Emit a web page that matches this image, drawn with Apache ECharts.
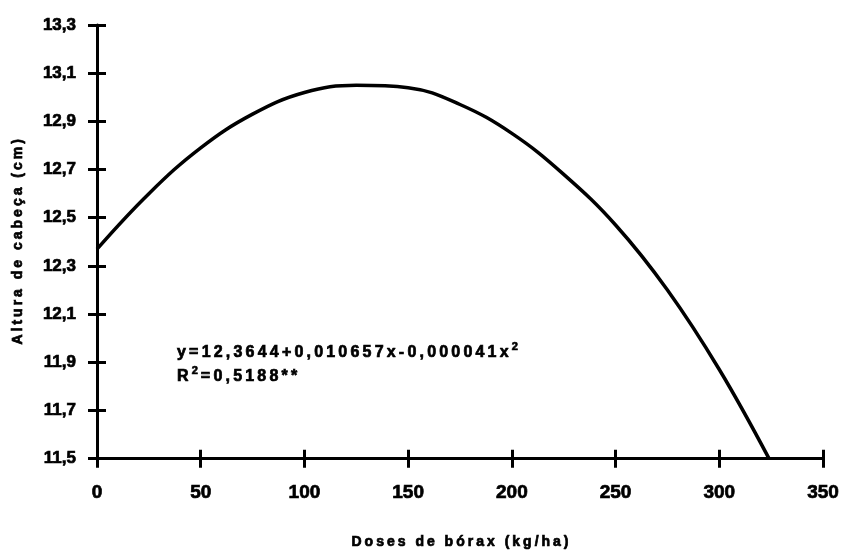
<!DOCTYPE html>
<html>
<head>
<meta charset="utf-8">
<script src="https://cdn.jsdelivr.net/npm/echarts@6/dist/echarts.min.js"></script>
<style>
  html, body { margin: 0; padding: 0; background: #fff; }
  #chart { width: 843px; height: 554px; }
</style>
</head>
<body>
<div id="chart"></div>
<script>
// values
const doses = [0, 25, 50, 75, 100, 125, 150, 175, 200, 225, 250, 275, 300, 324];
const altura = [12.37, 12.60, 12.79, 12.93, 13.02, 13.05, 13.04, 12.97, 12.85, 12.68, 12.47, 12.20, 11.87, 11.50];
const yTicks = [11.5, 11.7, 11.9, 12.1, 12.3, 12.5, 12.7, 12.9, 13.1, 13.3];
const xTicks = [0, 50, 100, 150, 200, 250, 300, 350];

const xTitle = "Doses de bórax (kg/ha)";
const yTitle = "Altura de cabeça (cm)";
const eqLine1 = "y=12,3644+0,010657x-0,000041x";
const eqLine2a = "R";
const eqLine2b = "=0,5188**";

const FONT = "Liberation Sans";
const NARROW = "'Liberation Sans Narrow', 'Liberation Sans'";

// wrap each char in a rich token so the text gets the wide letter spacing of the scan
function spaced(str, key) {
  return str.split("").map((ch) => "{" + key + "|" + ch + "}").join("");
}

const chart = echarts.init(document.getElementById("chart"), null, { renderer: "canvas" });

const lineStyle = { color: "#000", width: 3 };
const fmtComma = (v) => String(Math.round(v * 10) / 10).replace(".", ",");
// thin outline makes the glyphs as heavy as the scanned print
const heavy = { textBorderColor: "#000", textBorderWidth: 0.7 };
const nameRich = {
  c: Object.assign({ fontFamily: FONT, fontWeight: "bold", fontSize: 14, color: "#000", padding: [0, 1.5, 0, 1.5] }, heavy),
};

function xAxisBase(inside) {
  return {
    type: "value",
    min: 0,
    max: 350,
    interval: 50,
    position: "bottom",
    axisLine: { show: !inside, onZero: false, lineStyle },
    axisTick: { show: true, inside, length: 9, lineStyle },
    splitLine: { show: false },
    axisLabel: Object.assign({
      show: !inside,
      margin: 25,
      color: "#000",
      fontFamily: NARROW,
      fontWeight: "bold",
      fontSize: 19,
      customValues: xTicks,
      formatter: (v) => String(v),
    }, heavy),
  };
}

function yAxisBase(inside) {
  return {
    type: "value",
    min: 11.5,
    max: 13.3,
    position: "left",
    axisLine: { show: !inside, onZero: false, lineStyle },
    axisTick: { show: true, inside, length: 9, lineStyle, customValues: yTicks },
    splitLine: { show: false },
    axisLabel: Object.assign({
      show: !inside,
      margin: 21,
      color: "#000",
      fontFamily: NARROW,
      fontWeight: "bold",
      fontSize: 17,
      customValues: yTicks,
      formatter: fmtComma,
    }, heavy),
  };
}

const xMain = Object.assign(xAxisBase(false), {
  name: spaced(xTitle, "c"),
  nameLocation: "middle",
  nameGap: 76,
  nameTextStyle: { rich: nameRich },
});
const yMain = Object.assign(yAxisBase(false), {
  name: spaced(yTitle, "c"),
  nameLocation: "middle",
  nameGap: 72,
  nameTextStyle: { rich: nameRich },
});

const eqRich = {
  a: Object.assign({ fontFamily: FONT, fontWeight: "bold", fontSize: 16, color: "#000", lineHeight: 24, padding: [0, 3.2, 0, 0] }, heavy),
  s: Object.assign({ fontFamily: FONT, fontWeight: "bold", fontSize: 11, color: "#000", lineHeight: 24, verticalAlign: "top", padding: [0, 3, 0, 0] }, heavy),
};

chart.setOption({
  backgroundColor: "#fff",
  animation: false,
  title: {
    text: spaced(eqLine1, "a") + "{s|2}\n" + spaced(eqLine2a, "a") + "{s|2}" + spaced(eqLine2b, "a"),
    left: 177,
    top: 341,
    padding: 0,
    textStyle: { rich: eqRich, fontSize: 16, lineHeight: 24 },
  },
  grid: { left: 97, right: 20, top: 25, bottom: 94, containLabel: false },
  xAxis: [xMain, xAxisBase(true)],
  yAxis: [yMain, yAxisBase(true)],
  series: [
    {
      type: "line",
      xAxisIndex: 0,
      yAxisIndex: 0,
      data: doses.map((d, i) => [d, altura[i]]),
      smooth: 0.4,
      showSymbol: false,
      symbol: "none",
      lineStyle: { color: "#000", width: 3.5 },
    },
  ],
});
</script>
</body>
</html>
